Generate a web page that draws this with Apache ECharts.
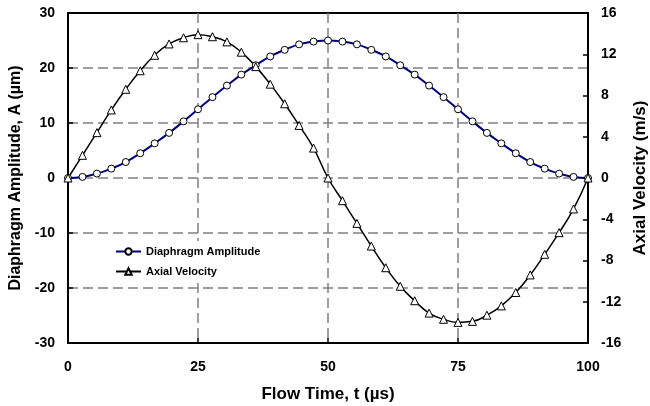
<!DOCTYPE html>
<html>
<head>
<meta charset="utf-8">
<script src="https://cdn.jsdelivr.net/npm/echarts@6/dist/echarts.min.js"></script>
<style>
  html, body { margin: 0; padding: 0; background: #fff; }
  #chart { width: 650px; height: 406px; }
</style>
</head>
<body>
<div id="chart"></div>
<script type="text/javascript">
  // flow time, us
  var times = [0, 2.78, 5.56, 8.33, 11.11, 13.89, 16.67, 19.44, 22.22, 25, 27.78, 30.56, 33.33, 36.11, 38.89, 41.67, 44.44, 47.22, 50,
               52.78, 55.56, 58.33, 61.11, 63.89, 66.67, 69.44, 72.22, 75, 77.78, 80.56, 83.33, 86.11, 88.89, 91.67, 94.44, 97.22, 100];
  // diaphragm amplitude, um (left axis)
  var amplitude = [0, 0.2, 0.8, 1.7, 2.9, 4.5, 6.3, 8.2, 10.3, 12.5, 14.7, 16.8, 18.8, 20.5, 22.1, 23.3, 24.3, 24.8, 25,
                   24.8, 24.3, 23.3, 22.1, 20.5, 18.8, 16.8, 14.7, 12.5, 10.3, 8.2, 6.3, 4.5, 2.9, 1.7, 0.8, 0.2, 0];
  // axial velocity, m/s (right axis)
  var velocity = [0, 2.2, 4.4, 6.6, 8.6, 10.4, 11.9, 13.0, 13.6, 13.9, 13.7, 13.2, 12.2, 10.8, 9.1, 7.2, 5.1, 2.9, 0,
                  -2.2, -4.4, -6.6, -8.7, -10.5, -11.9, -13.1, -13.7, -14.0, -13.9, -13.3, -12.4, -11.1, -9.4, -7.4, -5.3, -3.0, 0];

  function pairs(ys){
    var out = [];
    for (var i = 0; i < times.length; i++) { out.push([times[i], ys[i]]); }
    return out;
  }

  var font = 'Liberation Sans, Arial, sans-serif';
  var gridLine = { show: true, showMinLine: false, showMaxLine: false, lineStyle: { color: '#808080', width: 1.5, type: [10, 5] } };
  var tickLbl = { color: '#000', fontFamily: font, fontWeight: 'bold', fontSize: 14 };
  var nameTxt = { color: '#000', fontFamily: font, fontWeight: 'bold', fontSize: 17 };

  var myChart = echarts.init(document.getElementById('chart'));
  myChart.setOption({
    animation: false,
    grid: { left: 68, right: 62, top: 13, bottom: 63, outerBoundsMode: 'none', show: true, borderColor: '#000', borderWidth: 2 },
    legend: {
      orient: 'vertical', left: 110, top: 241,
      itemWidth: 25, itemHeight: 8, itemGap: 9,
      backgroundColor: '#fff',
      textStyle: { color: '#000', fontFamily: font, fontWeight: 'bold', fontSize: 11 },
      data: ['Diaphragm Amplitude', 'Axial Velocity']
    },
    xAxis: {
      type: 'value', min: 0, max: 100, interval: 25,
      name: 'Flow Time, t (µs)', nameLocation: 'middle', nameGap: 43, nameTextStyle: nameTxt,
      axisLine: { onZero: false, lineStyle: { color: '#000', width: 2 } },
      axisTick: { inside: true, length: 5, lineStyle: { color: '#000', width: 1.5 } },
      axisLabel: Object.assign({ margin: 17 }, tickLbl),
      splitLine: gridLine
    },
    yAxis: [
      {
        type: 'value', min: -30, max: 30, interval: 10,
        name: 'Diaphragm Amplitude, A (µm)', nameLocation: 'middle', nameGap: 38, nameRotate: 90,
        nameTextStyle: Object.assign({}, nameTxt, { fontSize: 16 }),
        axisLine: { show: true, onZero: false, lineStyle: { color: '#000', width: 2 } },
        axisTick: { show: true, inside: true, length: 5, lineStyle: { color: '#000', width: 1.5 } },
        axisLabel: Object.assign({ margin: 13 }, tickLbl),
        splitLine: gridLine
      },
      {
        type: 'value', min: -16, max: 16, interval: 4, position: 'right',
        name: 'Axial Velocity (m/s)', nameLocation: 'middle', nameGap: 35, nameRotate: 90, nameTextStyle: nameTxt,
        axisLine: { show: true, onZero: false, lineStyle: { color: '#000', width: 2 } },
        axisTick: { show: true, inside: true, length: 5, lineStyle: { color: '#000', width: 1.5 } },
        axisLabel: Object.assign({ margin: 13 }, tickLbl),
        splitLine: { show: false }
      }
    ],
    series: [
      {
        name: 'Diaphragm Amplitude', type: 'line', yAxisIndex: 0, smooth: true,
        symbol: 'circle', symbolSize: 7,
        lineStyle: { color: '#000080', width: 2 },
        itemStyle: { color: '#fff', borderColor: '#000', borderWidth: 1 },
        data: pairs(amplitude)
      },
      {
        name: 'Axial Velocity', type: 'line', yAxisIndex: 1, smooth: true,
        symbol: 'triangle', symbolSize: 8,
        lineStyle: { color: '#000', width: 1.5 },
        itemStyle: { color: '#fff', borderColor: '#000', borderWidth: 1 },
        data: pairs(velocity)
      }
    ]
  });
</script>
</body>
</html>
